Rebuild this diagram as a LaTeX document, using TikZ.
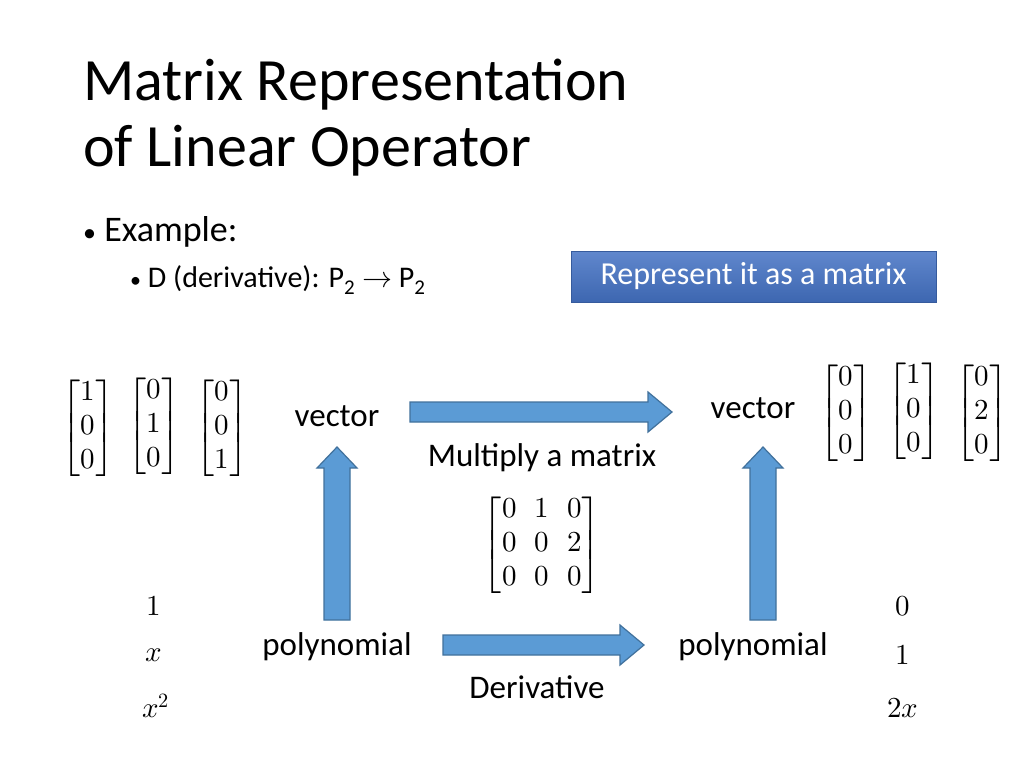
\documentclass[tikz,border=0pt]{standalone}
\usepackage{amsmath}
\usepackage{unicode-math}
\setmainfont{Carlito}
\setmathfont{Latin Modern Math}
\begin{document}
\begin{tikzpicture}[x=1pt,y=-1pt,
  txt/.style={inner sep=0pt,font=\fontsize{33}{38}\selectfont},
  mth/.style={inner sep=0pt,font=\fontsize{29}{34}\selectfont},
  barrow/.style={fill=arrowfill,draw=arrowdraw,line width=1.2pt}]
\definecolor{arrowfill}{HTML}{5B9BD5}
\definecolor{arrowdraw}{HTML}{41719C}
\definecolor{boxblue}{HTML}{4472C4}
\useasboundingbox (0,0) rectangle (1024,768);
\fill[white] (0,0) rectangle (1024,768);
% title
\node[anchor=base west,inner sep=0pt,font=\fontsize{60}{70}\selectfont] (t1) at (83,100) {Matrix Representation};
\node[anchor=base west,inner sep=0pt,font=\fontsize{60}{70}\selectfont] (t2) at (83,166) {of Linear Operator};
\node[anchor=base west,inner sep=0pt,font=\fontsize{36}{40}\selectfont] (b1) at (83,241) {{\fontsize{26}{30}\selectfont\textbullet}\ Example:};
\node[anchor=base west,inner sep=0pt,font=\fontsize{30}{34}\selectfont] (b2) at (130,287) {{\fontsize{22}{26}\selectfont\textbullet}\ D (derivative): P\textsubscript{2} $\rightarrow$ P\textsubscript{2}};
% blue box
\node[draw=boxblue!80!black,top color=boxblue!85!white,bottom color=boxblue!90!black,minimum width=365pt,minimum height=51pt,inner sep=0pt,text=white,font=\fontsize{32}{36}\selectfont] (rep) at (753.5,276.5) {Represent it as a matrix};
% arrows
\draw[barrow] (410,402) -- (648,402) -- (648,392) -- (672,412) -- (648,432) -- (648,422) -- (410,422) -- cycle;
\draw[barrow] (443,635) -- (620,635) -- (620,625) -- (644,645) -- (620,665) -- (620,655) -- (443,655) -- cycle;
\draw[barrow] (324,620) -- (324,468) -- (317,468) -- (337,447) -- (357,468) -- (350,468) -- (350,620) -- cycle;
\draw[barrow] (750,620) -- (750,468) -- (743,468) -- (763,447) -- (783,468) -- (776,468) -- (776,620) -- cycle;
% texts
\node[txt] (v1) at (337,416) {vector};
\node[txt] (v2) at (753,408) {vector};
\node[txt] (mm) at (542,458) {Multiply a matrix};
\node[txt] (p1) at (337,647) {polynomial};
\node[txt] (p2) at (753,647) {polynomial};
\node[txt] (dv) at (537,687) {Derivative};
\node[mth] (M) at (542,545) {$\begin{bmatrix}0&\;1\;&0\\0&\;0\;&2\\0&\;0\;&0\end{bmatrix}$};
\node[mth] (l1) at (88,428) {$\begin{bmatrix}1\\0\\0\end{bmatrix}$};
\node[mth] (l2) at (154,426) {$\begin{bmatrix}0\\1\\0\end{bmatrix}$};
\node[mth] (l3) at (222,428) {$\begin{bmatrix}0\\0\\1\end{bmatrix}$};
\node[mth] (r1) at (846,413) {$\begin{bmatrix}0\\0\\0\end{bmatrix}$};
\node[mth] (r2) at (914,411) {$\begin{bmatrix}1\\0\\0\end{bmatrix}$};
\node[mth] (r3) at (982,413) {$\begin{bmatrix}0\\2\\0\end{bmatrix}$};
\node[mth] (a1) at (154,606) {$1$};
\node[mth] (a2) at (154,655) {$x$};
\node[mth] (a3) at (156,706) {$x^2$};
\node[mth] (c1) at (903,606) {$0$};
\node[mth] (c2) at (903,655) {$1$};
\node[mth] (c3) at (903,708) {$2x$};
\end{tikzpicture}
\end{document}
